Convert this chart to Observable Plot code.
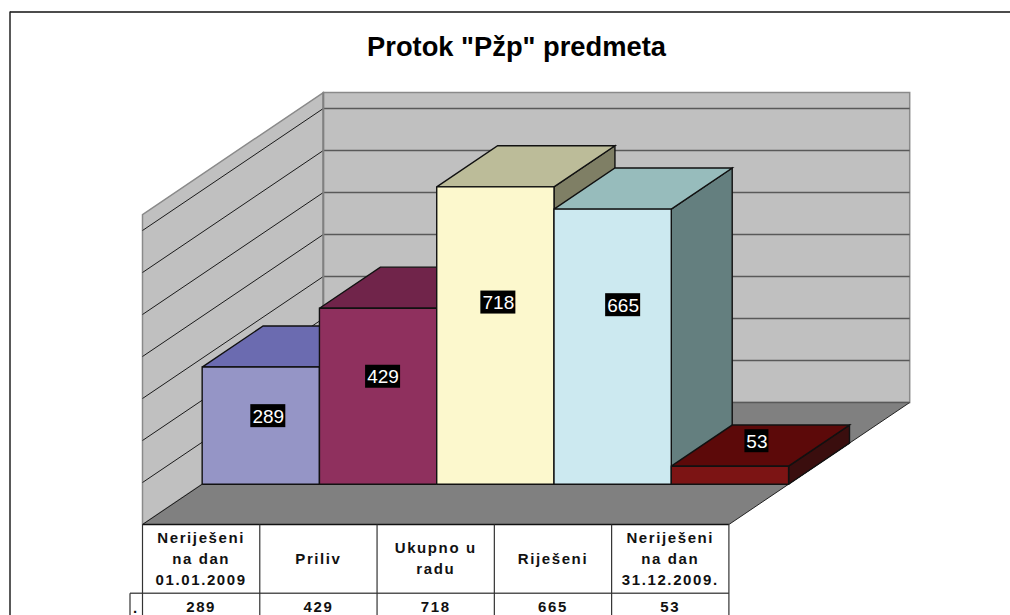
<!DOCTYPE html>
<html>
<head>
<meta charset="utf-8">
<script src="https://cdn.jsdelivr.net/npm/d3@7"></script>
<script src="https://cdn.jsdelivr.net/npm/@observablehq/plot@0.6"></script>
<style>
html,body{margin:0;padding:0;background:#fff;overflow:hidden}
svg{display:block}
</style>
</head>
<body>
<div id="chart"></div>
<script>
const titleText = 'Protok "Pžp" predmeta';
const categories = [["Neriješeni","na dan","01.01.2009"],["Priliv"],["Ukupno u","radu"],["Riješeni"],["Neriješeni","na dan","31.12.2009."]];
const values = [289, 429, 718, 665, 53];
const gridValues = [10, 110, 210, 310, 410, 510, 610, 710];
const fronts = ["#9595c6", "#8f305e", "#fcf8cd", "#cce9f0", "#7c1414"];
const tops = ["#6b6bb0", "#70244a", "#bcbc99", "#97bcbc", "#5c0909"];
const sides = ["#55558a", "#5a1c3c", "#7f7f65", "#647f7f", "#3a0e0e"];
const labelShift = [[7.5,-9.5],[5,-19.5],[3,-33],[10.5,-41.5],[27,-34]];

// Scale calibration: one category = 117.28px, one value unit = 0.42px
const W = 1010, H = 615, colPx = 117.28, valPx = 0.42;
const floorV = 10, wallTopV = 748;
const xDomain = [-142/colPx, (W-142)/colPx];
const yBottom = floorV - (H-524)/valPx, yTop = floorV + 524/valPx;
const X = px => (px-142)/colPx;
const Y = py => floorV + (524-py)/valPx;
const Dx = 180.8/colPx, Dy = 122/valPx;   // depth axis, in data units
const d0 = 0.33, d1 = 0.667, n = values.length;
const P = (c, v, d=0) => ({x: c + d*Dx, y: v + d*Dy});

const poly = (pts, fill, stroke="none", strokeWidth=1.4) => Plot.line([...pts, pts[0]], {
  x:"x", y:"y", fill, stroke, strokeWidth, curve:"linear",
  strokeLinejoin:"miter", strokeMiterlimit:4, strokeLinecap:"butt"
});
const seg = (a, b, stroke, strokeWidth) => Plot.line([a,b], {x:"x", y:"y", stroke, strokeWidth, strokeLinecap:"butt"});

const marks = [];
// frame
marks.push(seg({x:X(9.5),y:Y(11.5)},{x:X(W),y:Y(11.5)},"#111",1.5));
marks.push(seg({x:X(9.5),y:Y(11)},{x:X(9.5),y:Y(H)},"#222",1.5));
// walls and floor
marks.push(poly([P(0,floorV,1),P(n,floorV,1),P(n,wallTopV,1),P(0,wallTopV,1)],"#c0c0c0","#8a8a8a",1.5));
marks.push(poly([P(0,floorV,0),P(0,floorV,1),P(0,wallTopV,1),P(0,wallTopV,0)],"#c0c0c0","#8a8a8a",1.5));
marks.push(poly([P(0,floorV,0),P(n,floorV,0),P(n,floorV,1),P(0,floorV,1)],"#808080"));
marks.push(seg(P(n,floorV,0),P(n,floorV,1),"#222",1));
for (const g of gridValues) {
  marks.push(seg(P(0,g,0),P(0,g,1),"#1a1a1a",1));
  marks.push(seg(P(0,g,1),P(n,g,1),"#595959",1.4));
}
marks.push(seg(P(0,floorV,1),P(0,wallTopV,1),"#808080",2));
// bars
values.forEach((v,i) => {
  const a=i, b=i+1;
  marks.push(poly([P(b,floorV,d0),P(b,floorV,d1),P(b,v,d1),P(b,v,d0)],sides[i],"#111"));
  marks.push(poly([P(a,v,d0),P(b,v,d0),P(b,v,d1),P(a,v,d1)],tops[i],"#111"));
  marks.push(poly([P(a,floorV,d0),P(b,floorV,d0),P(b,v,d0),P(a,v,d0)],fronts[i],"#111"));
});
// data labels
values.forEach((v,i) => {
  const c = P(i+0.5,(v+floorV)/2,d0), [dx,dy] = labelShift[i];
  const w = v < 100 ? 12 : 17.5;
  marks.push(Plot.rect([c],{x1:"x",x2:"x",y1:"y",y2:"y",dx,dy,fill:"#000",
    insetLeft:-w,insetRight:-w,insetTop:-11.5,insetBottom:-11.5}));
  marks.push(Plot.text([c],{x:"x",y:"y",dx,dy:dy+0.5,text:()=>String(v),fill:"#fff",fontSize:19,
    fontFamily:"Liberation Sans",textAnchor:"middle"}));
});
// title
marks.push(Plot.text([titleText],{x:X(516),y:Y(47),text:d=>d,fontFamily:"Liberation Sans",fontWeight:700,fontSize:27.3,fill:"#000"}));
// data table
marks.push(seg({x:0,y:Y(524)},{x:n,y:Y(524)},"#111",1.5));
marks.push(seg({x:X(129.5),y:Y(592.7)},{x:n,y:Y(592.7)},"#555",1.4));
marks.push(seg({x:X(129.5),y:Y(592.7)},{x:X(129.5),y:Y(H)},"#333",1.2));
for (let i=0;i<=n;i++) marks.push(seg({x:i,y:Y(524)},{x:i,y:Y(H)},"#333",1.2));
const headRows = categories.flatMap((lines,i)=>lines.map((t,k)=>({t,x:i+0.5,py:558.5+(k-(lines.length-1)/2)*20.7})));
marks.push(Plot.text(headRows,{x:"x",y:d=>Y(d.py),text:"t",fontFamily:"Liberation Sans",fontWeight:700,fontSize:15,fill:"#111",ariaDescription:"table-text"}));
marks.push(Plot.text(values,{x:(d,i)=>i+0.5,y:()=>Y(606.5),text:d=>String(d),fontFamily:"Liberation Sans",fontWeight:700,fontSize:15,fill:"#111",ariaDescription:"table-text"}));
marks.push(Plot.text(["."],{x:X(134.5),y:Y(608),text:d=>d,fontFamily:"Liberation Sans",fontWeight:700,fontSize:15,fill:"#111"}));

const chart = Plot.plot({
  width:W, height:H, margin:0, marginTop:0, marginRight:0, marginBottom:0, marginLeft:0,
  x:{domain:xDomain, range:[0,W], axis:null},
  y:{domain:[yBottom,yTop], range:[H,0], axis:null},
  style:{background:"#fff"},
  marks
});
d3.select(chart).selectAll('[aria-description="table-text"]').style("letter-spacing","1.6px");
document.getElementById("chart").append(chart);
</script>
</body>
</html>
